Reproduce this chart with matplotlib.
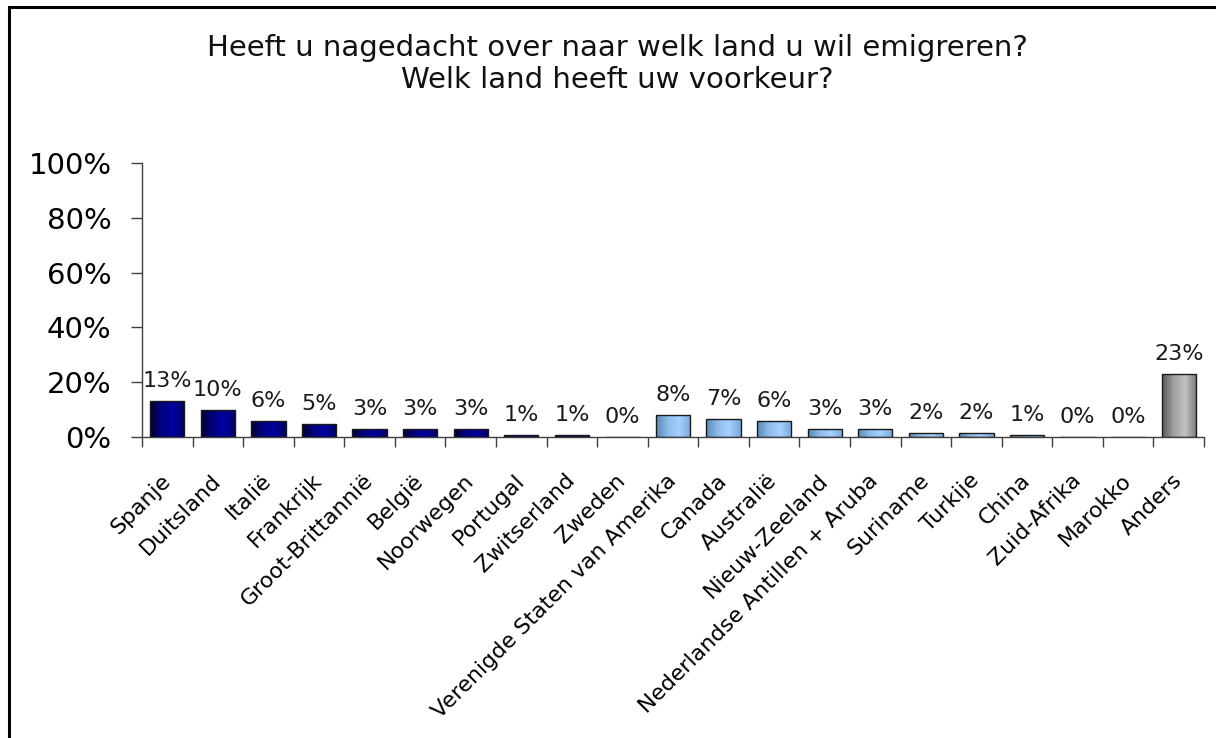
import numpy as np
import matplotlib
matplotlib.use("Agg")
import matplotlib.pyplot as plt
from matplotlib.colors import LinearSegmentedColormap
from matplotlib.lines import Line2D

title = "Heeft u nagedacht over naar welk land u wil emigreren?\nWelk land heeft uw voorkeur?"
categories = ["Spanje", "Duitsland", "Italië", "Frankrijk", "Groot-Brittannië", "België",
              "Noorwegen", "Portugal", "Zwitserland", "Zweden",
              "Verenigde Staten van Amerika", "Canada", "Australië", "Nieuw-Zeeland",
              "Nederlandse Antillen + Aruba", "Suriname", "Turkije", "China",
              "Zuid-Afrika", "Marokko", "Anders"]
values = [13.1, 9.9, 5.8, 4.8, 3.0, 3.0, 3.0, 0.8, 0.8, 0.0,
          8.0, 6.6, 5.8, 3.0, 3.0, 1.6, 1.6, 0.7, 0.0, 0.0, 23.0]
groups = [0] * 10 + [1] * 10 + [2]
yticks = [0, 20, 40, 60, 80, 100]

# gradient stops per group: edge -> highlight -> edge
grad = {
    0: ["#000033", "#000080", "#0000a0", "#000060"],
    1: ["#5a88b8", "#8dbce8", "#a4d0ff", "#78a8d8"],
    2: ["#5a5a5a", "#a0a0a0", "#c4c4c4", "#7a7a7a"],
}

W, H = 1216, 738
fig = plt.figure(figsize=(W / 100, H / 100), dpi=100)
ax = fig.add_axes([142 / W, 1 - 437 / H, (1204 - 142) / W, (437 - 163) / H])

x = np.arange(len(categories))
bars = ax.bar(x, values, width=0.68, color="none", edgecolor="#1a1a1a", linewidth=1.0, zorder=3)

for b, g in zip(bars, groups):
    cmap = LinearSegmentedColormap.from_list("g%d" % g, grad[g])
    x0, w = b.get_x(), b.get_width()
    h = b.get_height()
    if h <= 0:
        continue
    img = ax.imshow(np.linspace(0, 1, 64).reshape(1, -1), cmap=cmap, aspect="auto",
                    extent=[x0, x0 + w, 0, h], zorder=2, interpolation="bilinear")
    img.set_clip_path(b)

for xi, v in zip(x, values):
    ax.annotate("%d%%" % int(round(v)), (xi, v), xytext=(0, 7), textcoords="offset points",
                ha="center", va="bottom", fontsize=16, color="#1a1a1a", zorder=4)

ax.set_xlim(-0.5, len(categories) - 0.5)
ax.set_ylim(0, 100)
ax.set_yticks(yticks)
ax.set_yticklabels(["%d%%" % t for t in yticks], fontsize=21)
ax.set_xticks(np.arange(len(categories) + 1) - 0.5)
ax.set_xticklabels([])
ax.set_xticks(x, minor=True)
ax.set_xticklabels(categories, minor=True, rotation=45, ha="right", va="center",
                   rotation_mode="anchor", fontsize=15.8)
ax.tick_params(axis="x", which="minor", length=0, pad=29)
ax.tick_params(axis="x", which="major", direction="out", length=7, width=1, color="#404040")
ax.tick_params(axis="y", direction="out", length=8, width=1, color="#404040", pad=14)

for s in ["top", "right"]:
    ax.spines[s].set_visible(False)
for s in ["left", "bottom"]:
    ax.spines[s].set_color("#404040")
    ax.spines[s].set_linewidth(1)

fig.text(617 / W, 1 - 64 / H, title, ha="center", va="center", fontsize=21,
         linespacing=1.15, color="#111111")

# outer frame (left and top edges)
fig.add_artist(Line2D([8.5 / W, 8.5 / W], [0, 1 - 6.5 / H], color="black", lw=2.2,
                      transform=fig.transFigure))
fig.add_artist(Line2D([8.5 / W, 1], [1 - 6.5 / H, 1 - 6.5 / H], color="black", lw=2.2,
                      transform=fig.transFigure))

fig.savefig("out.png", dpi=100, facecolor="white")
